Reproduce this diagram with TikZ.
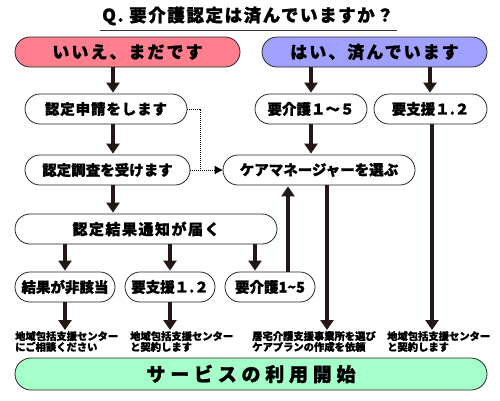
\documentclass[tikz,border=0pt]{standalone}
\usepackage{fontspec}
\setmainfont{Noto Sans CJK JP}[BoldFeatures={FakeBold=1.2}]
\usetikzlibrary{arrows.meta,calc}
\definecolor{pinkc}{HTML}{FF7F8E}
\definecolor{bluec}{HTML}{A0A0FF}
\definecolor{greenc}{HTML}{A5FFC8}
\definecolor{arrc}{HTML}{231815}
\begin{document}
\begin{tikzpicture}[x=1pt,y=-1pt,
  pill/.style={draw=black!85, line width=0.8pt, rounded corners=15pt, minimum height=30pt, inner sep=0pt, fill=white, font=\bfseries\fontsize{14.5}{16}\selectfont},
  head/.style={pill, font=\bfseries\fontsize{17}{19}\selectfont\addfontfeature{LetterSpace=12}},
  arr/.style={draw=arrc, line width=4.5pt, -{Triangle[width=13pt,length=10pt]}, shorten >=1pt},
  note/.style={anchor=north west, align=left, inner sep=0pt, font=\bfseries\fontsize{10.3}{10.8}\selectfont},
  dotline/.style={draw=black, line width=1pt, dash pattern=on 1pt off 1pt}]
\useasboundingbox (0,0) rectangle (500,400);
% title
\node[font=\bfseries\fontsize{17.5}{19}\selectfont\addfontfeature{LetterSpace=9}] (title) at (248,16) {Q. 要介護認定は済んでいますか？};
\draw[black!80, line width=1pt] (100,30) -- (397,30);
% header boxes
\node[head, fill=pinkc, minimum width=225pt] (no) at (127.5,52) {いいえ、まだです};
\node[head, fill=bluec, minimum width=225pt] (yes) at (374.5,52) {はい、済んでいます};
% left column
\node[pill, minimum width=162pt, font=\bfseries\fontsize{14.5}{16}\selectfont\addfontfeature{LetterSpace=6}] (shin) at (106,109) {認定申請をします};
\node[pill, minimum width=165pt] (chosa) at (107.5,170) {認定調査を受けます};
\node[pill, minimum width=262pt, font=\bfseries\fontsize{15}{17}\selectfont\addfontfeature{LetterSpace=10}] (kekka) at (146,229) {認定結果通知が届く};
\node[pill, minimum width=100pt] (hi) at (65,287) {結果が非該当};
\node[pill, minimum width=90pt] (shien2) at (170,287) {要支援１.２};
\node[pill, minimum width=90pt] (kaigo2) at (270,287) {要介護1\textasciitilde5};
% right column
\node[pill, minimum width=112pt] (kaigo1) at (311,109) {要介護１～５};
\node[pill, minimum width=113pt] (shien1) at (430.5,109) {要支援１.２};
\node[pill, minimum width=192pt] (care) at (319,170) {ケアマネージャーを選ぶ};
% notes
\node[note] (n1) at (15,331) {地域包括支援センター\\にご相談ください};
\node[note] (n2) at (130,331) {地域包括支援センター\\と契約します};
\node[note] (n3) at (252,331) {居宅介護支援事業所を選び\\ケアプランの作成を依頼};
\node[note] (n4) at (387,331) {地域包括支援センター\\と契約します};
% bottom
\node[pill, fill=greenc, minimum width=472pt, minimum height=32pt, rounded corners=16pt, font=\bfseries\fontsize{19}{21}\selectfont\addfontfeature{LetterSpace=25}] (start) at (251,374) {サービスの利用開始};
% arrows
\draw[arr] (113,0 |- no.south) -- (113,0 |- shin.north);
\draw[arr] (113,0 |- shin.south) -- (113,0 |- chosa.north);
\draw[arr] (113,0 |- chosa.south) -- (113,0 |- kekka.north);
\draw[arr] (65,0 |- kekka.south) -- (65,0 |- hi.north);
\draw[arr] (170,0 |- kekka.south) -- (170,0 |- shien2.north);
\draw[arr] (255,0 |- kekka.south) -- (255,0 |- kaigo2.north);
\draw[arr] (311,0 |- yes.south) -- (311,0 |- kaigo1.north);
\draw[arr] (430,0 |- yes.south) -- (430,0 |- shien1.north);
\draw[arr] (311,0 |- kaigo1.south) -- (311,0 |- care.north);
\draw[arr] (288,0 |- kaigo2.north) -- (288,0 |- care.south);
\draw[arr] (65,0 |- hi.south) -- (65,0 |- n1.north);
\draw[arr] (170,0 |- shien2.south) -- (170,0 |- n2.north);
\draw[arr] (327,0 |- care.south) -- (327,0 |- n3.north);
\draw[arr] (432,0 |- shien1.south) -- (432,0 |- n4.north);
% dotted
\draw[dotline] (shin.east) -| (200,0 |- care.west);
\draw[dotline, -{Triangle[width=8pt,length=8pt]}] (chosa.east) -- (care.west);
\end{tikzpicture}
\end{document}
